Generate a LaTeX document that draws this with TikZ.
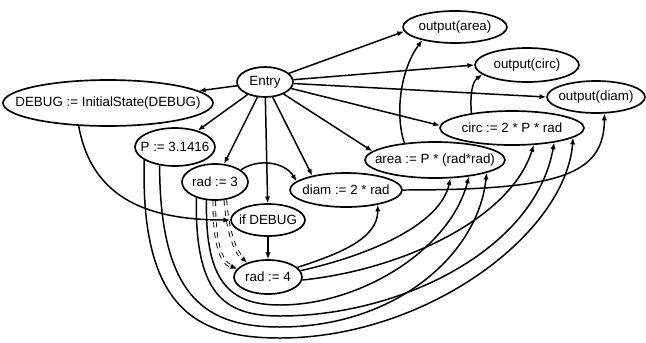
\documentclass[tikz,border=0pt]{standalone}
\usepackage{fontspec}
\setmainfont{Liberation Sans}
\usetikzlibrary{shapes.geometric,arrows.meta}
\newcommand{\nlab}[1]{\makebox[0pt]{#1}}
\begin{document}
\begin{tikzpicture}[x=0.02cm,y=-0.02cm,
   st/.style={draw,ellipse,inner sep=0pt,line width=0.95pt,font=\fontsize{7.6}{9}\selectfont},
   arr/.style={-{Latex[length=3.8pt,width=3pt]},line width=0.85pt},
   dep/.style={arr,dashed,double,double distance=1pt,line width=0.5pt}]
   \useasboundingbox (0,0) rectangle (646,342);

   \node[st,minimum width=1.12cm,minimum height=0.6cm] (entry) at (265,82) {\nlab{Entry}};
   \node[st,minimum width=4.2cm,minimum height=0.92cm] (debug) at (108,103) {\nlab{DEBUG := InitialState(DEBUG)}};
   \node[st,minimum width=1.6cm,minimum height=0.76cm] (p) at (175,147) {\nlab{P := 3.1416}};
   \node[st,minimum width=1.32cm,minimum height=0.72cm] (rad3) at (215,182) {\nlab{rad := 3}};
   \node[st,minimum width=1.48cm,minimum height=0.64cm] (ifdebug) at (268,220) {\nlab{if DEBUG}};
   \node[st,minimum width=2.24cm,minimum height=0.68cm] (diam) at (346,190) {\nlab{diam := 2 * rad}};
   \node[st,minimum width=1.36cm,minimum height=0.68cm] (rad4) at (268,277) {\nlab{rad := 4}};
   \node[st,minimum width=2.8cm,minimum height=0.72cm] (area) at (435,160) {\nlab{area := P * (rad*rad)}};
   \node[st,minimum width=2.88cm,minimum height=0.68cm] (circ) at (512,128) {\nlab{circ := 2 * P * rad}};
   \node[st,minimum width=1.96cm,minimum height=0.64cm] (outdiam) at (596,97) {\nlab{output(diam)}};
   \node[st,minimum width=2.08cm,minimum height=0.68cm] (outcirc) at (527,65) {\nlab{output(circ)}};
   \node[st,minimum width=2.08cm,minimum height=0.64cm] (outarea) at (455,27) {\nlab{output(area)}};

   \draw[arr] (entry) -- (debug);
   \draw[arr] (entry) -- (p);
   \draw[arr] (entry) -- (rad3);
   \draw[arr] (entry) -- (ifdebug);
   \draw[arr] (entry) -- (diam.157);
   \draw[arr] (entry) -- (area.172);
   \draw[arr] (entry) -- (circ.178);
   \draw[arr] (entry) -- (outdiam.west);
   \draw[arr] (entry) -- (outcirc.west);
   \draw[arr] (entry) -- (outarea.185);

   \draw[arr] (debug.218) .. controls (92,200) and (150,220) .. (ifdebug.west);
   \draw[arr] (rad3.25) .. controls (258,158) and (285,162) .. (diam.170);
   \draw[dep] (rad3.268) .. controls (214,240) and (220,262) .. (rad4.165);
   \draw[dep] (rad3.300) .. controls (228,235) and (236,252) .. (rad4.146);
   \draw[arr] (ifdebug) -- (rad4);

   \draw[arr] (rad4.18) .. controls (335,255) and (378,240) .. (diam.-25);
   \draw[arr] (rad4.11) .. controls (370,255) and (440,225) .. (area.-50);
   \draw[arr] (rad4.-5) .. controls (400,270) and (510,220) .. (circ.-38);
   \draw[arr] (rad3.245) .. controls (205,280) and (228,305) .. (280,305)
      .. controls (360,305) and (450,250) .. (area.-26);
   \draw[arr] (rad3.220) .. controls (195,292) and (222,316) .. (280,316)
      .. controls (400,316) and (535,250) .. (circ.-19);
   \draw[arr] (p.230) .. controls (160,300) and (208,327) .. (280,327)
      .. controls (395,327) and (478,255) .. (area.-14);
   \draw[arr] (p.203) .. controls (140,312) and (200,338) .. (280,338)
      .. controls (425,338) and (565,235) .. (circ.-9);

   \draw[arr] (diam.east) .. controls (560,190) and (604,175) .. (outdiam.-63);
   \draw[arr] (area.151) .. controls (395,115) and (400,70) .. (outarea.202);
   \draw[arr] (circ.160) .. controls (470,95) and (472,82) .. (outcirc.192);
\end{tikzpicture}
\end{document}
